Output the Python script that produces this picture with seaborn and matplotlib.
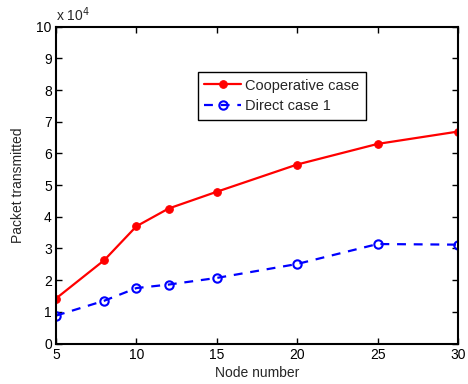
import matplotlib
matplotlib.use("Agg")
import matplotlib.pyplot as plt
from matplotlib.ticker import FuncFormatter
import seaborn as sns
import pandas as pd

nodes = [5, 8, 10, 12, 15, 20, 25, 30]
cooperative = [14200, 26300, 37000, 42600, 47900, 56500, 63000, 66900]
direct = [8800, 13500, 17500, 18600, 20700, 25100, 31400, 31200]
series_names = ["Cooperative case", "Direct case 1"]
x_ticks = [5, 10, 15, 20, 25, 30]

sns.set_style("ticks")
plt.rcParams['font.family'] = ['Liberation Sans', 'DejaVu Sans']
plt.rcParams['xtick.direction'] = 'in'
plt.rcParams['ytick.direction'] = 'in'

fig = plt.figure(figsize=(4.68, 3.84), dpi=100)
ax = fig.add_axes([56/468, 1 - 343.5/384, 402/468, 316.8/384])

df = pd.DataFrame({"node": nodes + nodes,
                   "packets": cooperative + direct,
                   "series": [series_names[0]] * len(nodes) + [series_names[1]] * len(nodes)})

sns.lineplot(data=df[df.series == series_names[0]], x="node", y="packets", ax=ax,
             color="#ff0000", linewidth=1.6, marker="o", markersize=5.5,
             markeredgecolor="#ff0000", markerfacecolor="#ff0000",
             label=series_names[0])
sns.lineplot(data=df[df.series == series_names[1]], x="node", y="packets", ax=ax,
             color="#0000ff", linewidth=1.6, linestyle=(0, (4, 3.5)), marker="o", markersize=6,
             markeredgecolor="#0000ff", markerfacecolor="none", markeredgewidth=1.5,
             label=series_names[1])

ax.set_xlim(5, 30)
ax.set_ylim(0, 100000)
ax.set_xticks(x_ticks)
ax.set_yticks([i * 10000 for i in range(11)])
ax.yaxis.set_major_formatter(FuncFormatter(lambda v, p: f"{int(round(v / 10000))}"))
ax.tick_params(axis='both', which='both', top=True, right=True, direction='in',
               length=4, width=1.0, labelsize=10, colors='black', pad=3)
for s in ax.spines.values():
    s.set_visible(True)
    s.set_linewidth(1.5)
    s.set_color('black')

ax.set_xlabel("Node number", fontsize=10, labelpad=3)
ax.set_ylabel("Packet transmitted", fontsize=10, labelpad=8)
ax.text(0.0, 1.01, r"x 10$^{4}$", transform=ax.transAxes, fontsize=10, ha='left', va='bottom')

leg = ax.legend(loc='upper left', bbox_to_anchor=(0.353, 0.857), fontsize=10.5, frameon=True,
                fancybox=False, framealpha=1, edgecolor='black', borderpad=0.45,
                handlelength=2.5, handletextpad=0.3, labelspacing=0.45, borderaxespad=0)
leg.get_frame().set_linewidth(1.0)

fig.savefig("out.png", dpi=100)
